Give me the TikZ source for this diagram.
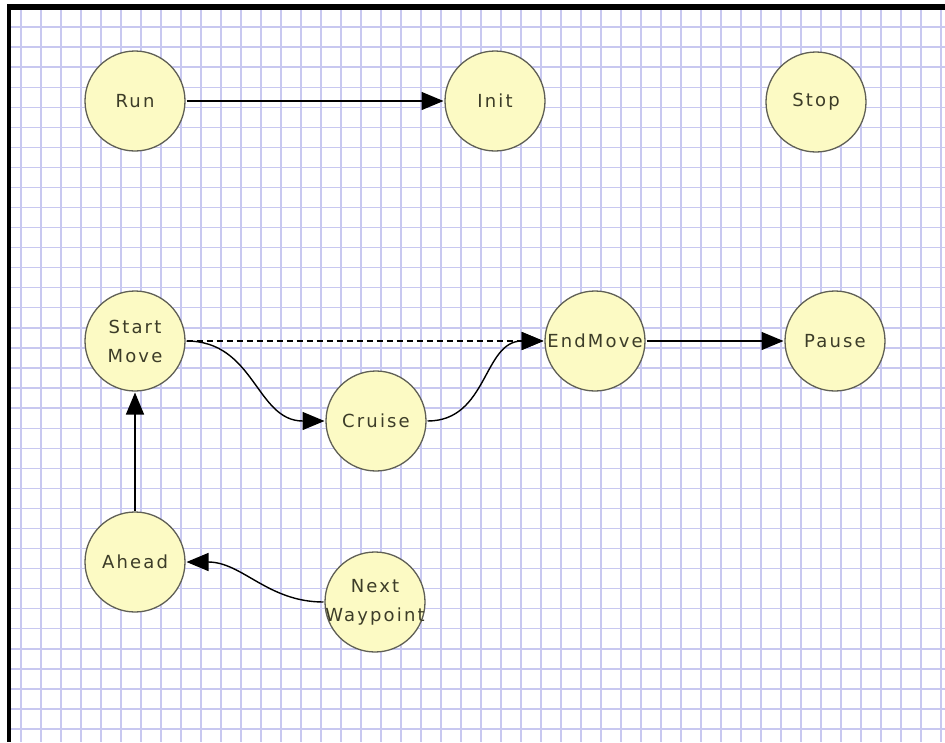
\documentclass[tikz,border=0pt]{standalone}
\usepackage{fontspec}
\usetikzlibrary{arrows.meta}
\newfontfamily\statefont{DejaVu Sans}[LetterSpace=12]
\definecolor{gridblue}{RGB}{200,200,240}
\definecolor{statefill}{RGB}{252,250,196}
\definecolor{stateline}{RGB}{95,95,85}
\definecolor{statetext}{RGB}{60,60,40}
\newcommand{\lbl}[1]{\makebox[0pt]{#1}}
\tikzset{
	state/.style={circle, draw=stateline, fill=statefill, line width=1.3pt, minimum size=100pt, inner sep=0pt, outer sep=1.5pt, text=statetext, align=center, font=\statefont\fontsize{18}{29}\selectfont},
	trans/.style={line width=1.4pt, -{Triangle[length=22pt,width=18pt]}}
}
\begin{document}
\begin{tikzpicture}[x=1pt, y=-1pt]
	\useasboundingbox (0, 0) rectangle (945, 742);
	% grid paper
	\foreach \gx in {21, 41, ..., 941}
		\draw[gridblue, line width=1.3pt] (\gx, 9) -- (\gx, 742);
	\foreach \gy in {0, ..., 35}
		\draw[gridblue, line width=1.3pt] (10, 27 + 20.06*\gy) -- (945, 27 + 20.06*\gy);
	\fill[black] (7, 4) rectangle (945, 9.5);
	\fill[black] (7, 4) rectangle (10.5, 742);
	% states
	\node[state] (run) at (135, 101) {\lbl{Run}};
	\node[state] (init) at (495, 101) {\lbl{Init}};
	\node[state] (stop) at (816, 102) {\lbl{Stop}};
	\node[state] (startmove) at (135, 341) {\lbl{Start}\\\lbl{Move}};
	\node[state] (cruise) at (376, 421) {\lbl{Cruise}};
	\node[state] (endmove) at (595, 341) {\lbl{EndMove}};
	\node[state] (pause) at (835, 341) {\lbl{Pause}};
	\node[state] (ahead) at (135, 562) {\lbl{Ahead}};
	\node[state] (nextwp) at (375, 602) {\lbl{Next}\\\lbl{Waypoint}};
	% transitions
	\draw[trans] (run) -- (init);
	\draw[trans, line width=1.2pt, dash pattern=on 6pt off 4pt] (startmove) -- (endmove);
	\draw[trans] (startmove.east) to[out=0, in=180, looseness=1.1] (cruise.west);
	\draw[trans] (cruise.east) to[out=0, in=180, looseness=1.1] (endmove.west);
	\draw[trans] (endmove) -- (pause);
	\draw[trans] (ahead) -- (startmove);
	\draw[trans] (nextwp.west) to[out=180, in=0] (ahead.east);
\end{tikzpicture}
\end{document}
